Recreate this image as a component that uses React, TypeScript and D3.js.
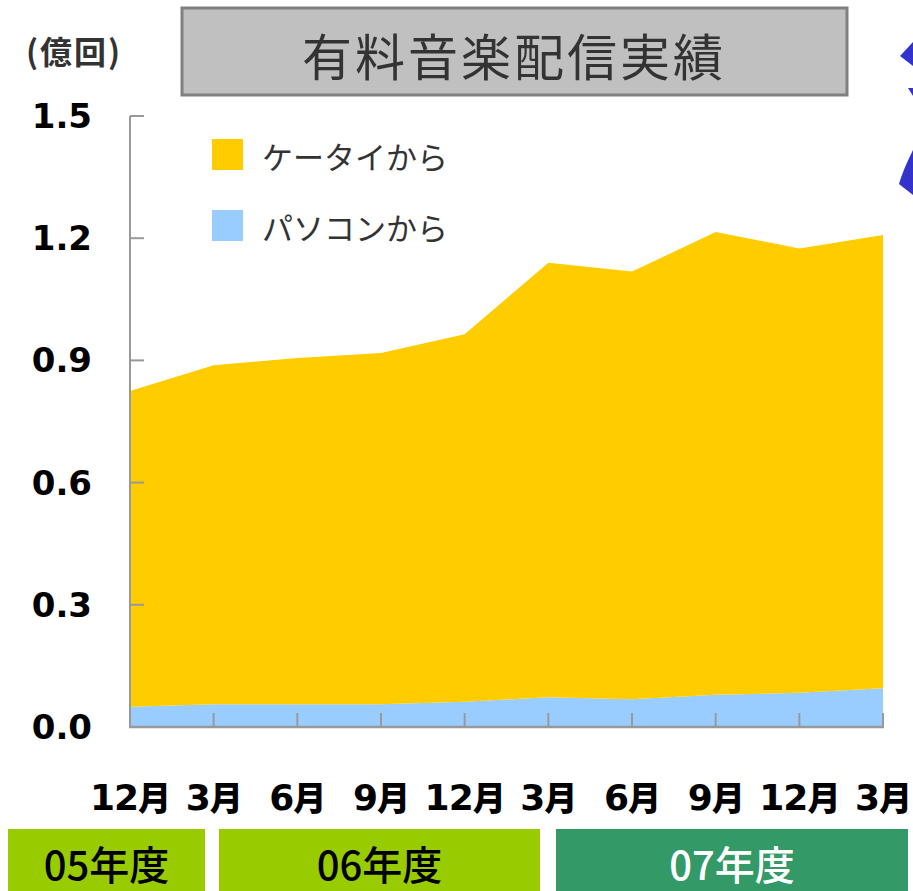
import React from "react";
import * as d3 from "d3";

const months = ["12月", "3月", "6月", "9月", "12月", "3月", "6月", "9月", "12月", "3月"];
const pcValues = [0.05, 0.056, 0.056, 0.056, 0.062, 0.073, 0.068, 0.079, 0.084, 0.095];
const keitaiValues = [0.775, 0.832, 0.85, 0.862, 0.902, 1.067, 1.05, 1.136, 1.091, 1.113];
const yTicks = [0, 0.3, 0.6, 0.9, 1.2, 1.5];
const seriesNames = ["パソコンから", "ケータイから"];
const seriesColors = ["#99CCFF", "#FFCC00"];
const fiscalYears = ["05年度", "06年度", "07年度"];

const W = 913;
const H = 891;
const JP = "'Noto Sans CJK JP', 'Noto Sans', sans-serif";
const BOLD = "'DejaVu Sans', 'Noto Sans CJK JP', sans-serif";

export default function App() {
  const x = d3.scaleLinear().domain([0, months.length - 1]).range([130, 883]);
  const y = d3.scaleLinear().domain([0, 1.5]).range([727, 116]);

  const rows = months.map((m, i) => ({ i, pc: pcValues[i], keitai: keitaiValues[i] }));
  const stacked = d3.stack<any>().keys(["pc", "keitai"])(rows);
  const area = d3
    .area<any>()
    .x((d) => x(d.data.i))
    .y0((d) => y(d[0]))
    .y1((d) => y(d[1]));

  return (
    <svg width={W} height={H} style={{ position: "absolute", left: 0, top: 0, background: "#fff" }}>
      {/* title */}
      <rect x={182} y={8} width={665} height={87} fill="#C0C0C0" stroke="#808080" strokeWidth={3} />
      <text x={514} y={54} textAnchor="middle" dominantBaseline="central" fontFamily={JP} fontSize={50} letterSpacing={3} fill="#333">
        有料音楽配信実績
      </text>
      {/* unit */}
      <text x={74} y={50} textAnchor="middle" dominantBaseline="central" fontFamily={JP} fontWeight={700} fontSize={32} letterSpacing={2} fill="#333">
        (億回)
      </text>

      {/* decorative cut-off blue shapes at right edge */}
      <path d="M913,42 L900,56 L913,66 Z" fill="#3333CC" />
      <path d="M908,88 L913,88 L913,96 Z" fill="#3333CC" />
      <path d="M913,150 Q903,170 899,184 L913,195 Z" fill="#3333CC" />

      {/* areas */}
      {stacked.map((s, k) => (
        <path key={k} d={area(s) || ""} fill={seriesColors[k]} />
      ))}

      {/* axes */}
      <line x1={130} y1={116} x2={130} y2={727} stroke="#999" strokeWidth={2} />
      <line x1={129} y1={727} x2={884} y2={727} stroke="#999" strokeWidth={2.5} />
      {yTicks.map((t) => (
        <g key={t}>
          <line x1={130} x2={144} y1={y(t)} y2={y(t)} stroke="#999" strokeWidth={2} />
          <text x={92} y={y(t)} textAnchor="end" dominantBaseline="central" fontFamily={BOLD} fontWeight={700} fontSize={34} fill="#000">
            {t.toFixed(1)}
          </text>
        </g>
      ))}
      {months.map((m, i) => (
        <g key={i}>
          <line x1={x(i)} x2={x(i)} y1={727} y2={713} stroke="#999" strokeWidth={2} />
          <text x={x(i)} y={810} textAnchor="middle" fontFamily={BOLD} fontWeight={700} fontSize={36} letterSpacing={-1} fill="#000">
            {m.replace("月", "")}
            <tspan fontFamily={JP} fontWeight={900} fontSize={33}>月</tspan>
          </text>
        </g>
      ))}

      {/* legend */}
      {[1, 0].map((k, j) => (
        <g key={k}>
          <rect x={212} y={139 + j * 71} width={31} height={31} fill={seriesColors[k]} />
          <text x={262} y={155 + j * 71} dominantBaseline="central" fontFamily={JP} fontSize={31} fill="#333">
            {seriesNames[k]}
          </text>
        </g>
      ))}

      {/* fiscal year boxes */}
      {[
        { x0: 8, x1: 205, fill: "#99CC00", color: "#000" },
        { x0: 219, x1: 540, fill: "#99CC00", color: "#000" },
        { x0: 556, x1: 908, fill: "#339966", color: "#fff" },
      ].map((b, i) => (
        <g key={i}>
          <rect x={b.x0} y={829} width={b.x1 - b.x0} height={62} fill={b.fill} />
          <text x={(b.x0 + b.x1) / 2} y={863} textAnchor="middle" dominantBaseline="central" fontFamily={JP} fontWeight={500} fontSize={40} fill={b.color}>
            {fiscalYears[i]}
          </text>
        </g>
      ))}
    </svg>
  );
}
